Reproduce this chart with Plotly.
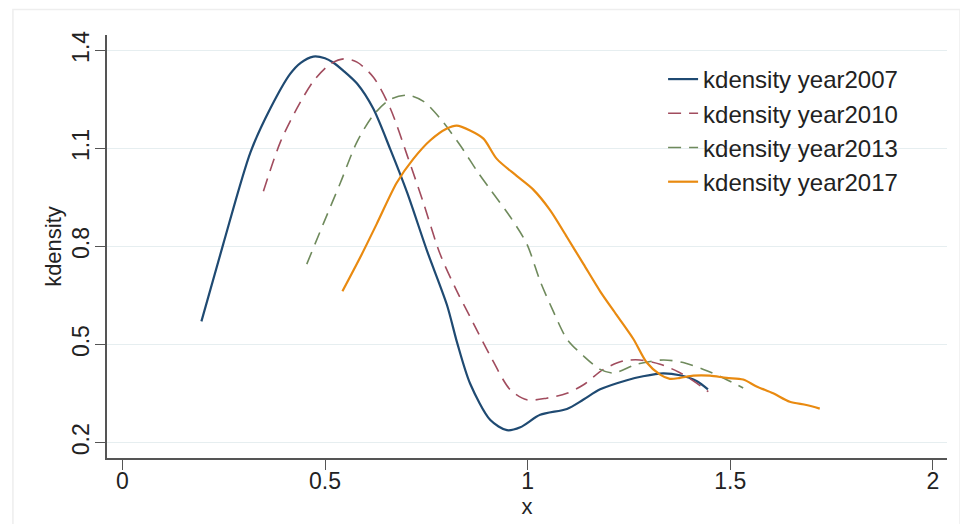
import plotly.graph_objects as go

# ---- data ----
x2007 = [0.195, 0.249, 0.316, 0.365, 0.414, 0.440, 0.471, 0.500, 0.520, 0.545, 0.580, 0.619,
         0.661, 0.703, 0.752, 0.801, 0.826, 0.858, 0.908, 0.949, 0.982, 1.031, 1.097, 1.137,
         1.179, 1.245, 1.285, 1.334, 1.376, 1.418, 1.445]
y2007 = [0.571, 0.808, 1.088, 1.222, 1.328, 1.362, 1.381, 1.376, 1.363, 1.338, 1.297, 1.222,
         1.098, 0.964, 0.786, 0.621, 0.506, 0.381, 0.269, 0.238, 0.247, 0.285, 0.303, 0.331,
         0.363, 0.391, 0.403, 0.412, 0.406, 0.388, 0.363]

x2010 = [0.348, 0.390, 0.431, 0.472, 0.513, 0.546, 0.579, 0.620, 0.661, 0.703, 0.743, 0.784,
         0.826, 0.858, 0.908, 0.957, 0.998, 1.047, 1.097, 1.138, 1.187, 1.236, 1.277, 1.327,
         1.376, 1.417, 1.446]
y2010 = [0.969, 1.120, 1.223, 1.307, 1.358, 1.374, 1.364, 1.317, 1.223, 1.078, 0.933, 0.777,
         0.662, 0.585, 0.465, 0.362, 0.331, 0.336, 0.351, 0.377, 0.424, 0.450, 0.453, 0.440,
         0.414, 0.382, 0.356]

x2013 = [0.455, 0.496, 0.538, 0.579, 0.620, 0.661, 0.703, 0.743, 0.784, 0.834, 0.875, 0.908,
         0.957, 0.998, 1.031, 1.064, 1.097, 1.138, 1.179, 1.212, 1.270, 1.335, 1.384, 1.434,
         1.483, 1.532]
y2013 = [0.746, 0.870, 0.995, 1.120, 1.203, 1.250, 1.263, 1.244, 1.192, 1.109, 1.031, 0.974,
         0.891, 0.808, 0.694, 0.600, 0.517, 0.465, 0.424, 0.413, 0.440, 0.453, 0.445, 0.424,
         0.398, 0.367]

x2017 = [0.543, 0.587, 0.628, 0.677, 0.718, 0.760, 0.801, 0.825, 0.858, 0.891, 0.924, 0.973,
         1.014, 1.055, 1.097, 1.138, 1.179, 1.220, 1.261, 1.294, 1.327, 1.351, 1.376, 1.409,
         1.450, 1.491, 1.532, 1.565, 1.606, 1.647, 1.688, 1.721]
y2017 = [0.663, 0.767, 0.870, 0.995, 1.068, 1.125, 1.161, 1.170, 1.155, 1.130, 1.068, 1.016,
         0.974, 0.912, 0.829, 0.746, 0.663, 0.590, 0.517, 0.445, 0.408, 0.395, 0.398, 0.405,
         0.405, 0.398, 0.393, 0.372, 0.351, 0.325, 0.315, 0.304]

series_names = ["kdensity year2007", "kdensity year2010", "kdensity year2013", "kdensity year2017"]
x_ticks = [0, 0.5, 1, 1.5, 2]
x_tick_labels = ["0", "0.5", "1", "1.5", "2"]
y_ticks = [0.2, 0.5, 0.8, 1.1, 1.4]
y_tick_labels = ["0.2", "0.5", "0.8", "1.1", "1.4"]

FONT = "Arial, 'Liberation Sans', sans-serif"

fig = go.Figure()
styles = [
    (x2007, y2007, "#1f4a72", 2.2, "solid"),
    (x2010, y2010, "#a14c5e", 1.6, "13px,8px"),
    (x2013, y2013, "#6f8a5c", 1.6, "13px,8px"),
    (x2017, y2017, "#e98a10", 2.2, "solid"),
]
for (xs, ys, col, w, dash), name in zip(styles, series_names):
    fig.add_trace(go.Scatter(x=xs, y=ys, mode="lines", name=name,
                             line=dict(color=col, width=w, dash=dash, shape="spline", smoothing=0.8)))

# page body has an 8px margin, so the figure is drawn 8px in from the top-left
fig.update_layout(
    width=960, height=516,
    margin=dict(l=99, r=21, t=27, b=66),
    paper_bgcolor="white", plot_bgcolor="white",
    font=dict(family=FONT, size=23, color="#222222"),
    showlegend=True,
    legend=dict(x=0.662, y=0.948, xanchor="left", yanchor="top",
                bgcolor="rgba(0,0,0,0)", borderwidth=0,
                font=dict(size=24, color="#222222"), itemwidth=30),
    xaxis=dict(range=[-0.038, 2.035], tickvals=x_ticks, ticktext=x_tick_labels, automargin=False,
               showgrid=False, zeroline=False, showline=True, linecolor="#555555", linewidth=1.6,
               ticks="outside", ticklen=10, tickwidth=1.2, tickcolor="#555555",
               tickfont=dict(size=23), ticklabelstandoff=-8,
               title=dict(text="x", font=dict(size=22), standoff=2)),
    yaxis=dict(range=[0.153, 1.447], tickvals=y_ticks, ticktext=y_tick_labels, tickangle=-90,
               automargin=False,
               showgrid=True, gridcolor="#e6eef0", gridwidth=1.2, zeroline=False,
               showline=True, linecolor="#555555", linewidth=1.6,
               ticks="outside", ticklen=10, tickwidth=1.2, tickcolor="#555555",
               tickfont=dict(size=23), ticklabelstandoff=-3,
               title=dict(text="kdensity", font=dict(size=22), standoff=0)),
    shapes=[dict(type="rect", xref="paper", yref="paper", x0=-0.112, x1=1.0155, y0=-0.25, y1=1.06,
                 line=dict(color="#eeeeee", width=1.5), fillcolor="rgba(0,0,0,0)", layer="below")],
)

fig.write_html("out.html")
